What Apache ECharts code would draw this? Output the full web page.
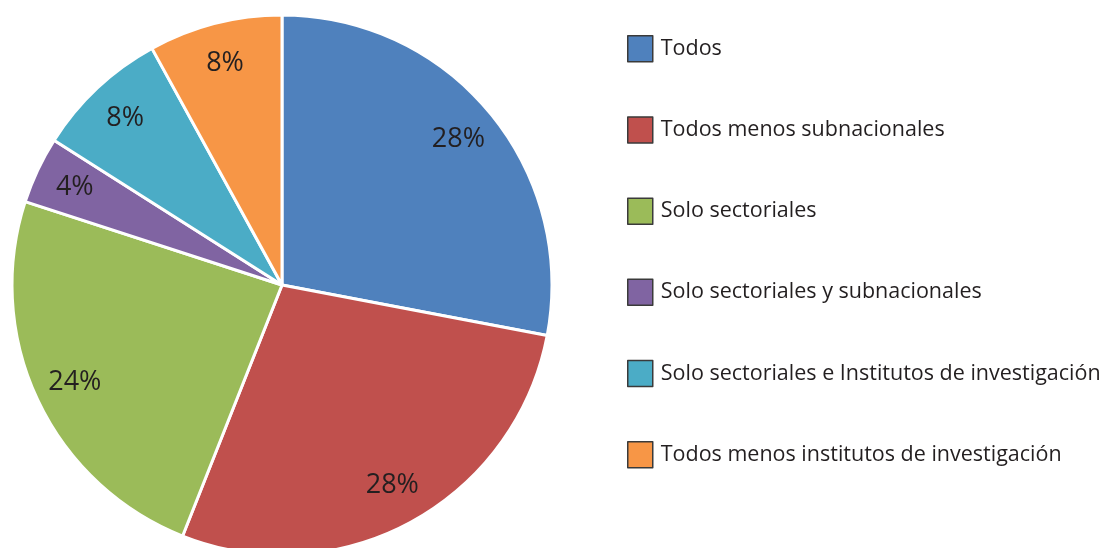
<!DOCTYPE html>
<html>
<head>
<meta charset="utf-8">
<script src="https://cdn.jsdelivr.net/npm/echarts@6/dist/echarts.min.js"></script>
<style>
  html, body { margin: 0; padding: 0; background: #fff; }
  #chart { width: 1100px; height: 548px; }
</style>
</head>
<body>
<div id="chart"></div>
<script>
// categorías y porcentajes
const categories = [
  'Todos',
  'Todos menos subnacionales',
  'Solo sectoriales',
  'Solo sectoriales y subnacionales',
  'Solo sectoriales e Institutos de investigación',
  'Todos menos institutos de investigación'
];
const values = [28, 28, 24, 4, 8, 8];
const colors = ['#4f81bd', '#c0504d', '#9bbb59', '#8064a2', '#4bacc6', '#f79646'];

const font = '"Open Sans", "Noto Sans", sans-serif';
const pieData = categories.map((name, i) => ({ name, value: values[i] }));

const chart = echarts.init(document.getElementById('chart'));
chart.setOption({
  animation: false,
  color: colors,
  legend: {
    orient: 'vertical',
    left: 622,
    top: 30,
    itemWidth: 25,
    itemHeight: 26,
    itemGap: 53.7,
    icon: 'rect',
    data: categories,
    itemStyle: { borderColor: '#3a3a3a', borderWidth: 1.5 },
    textStyle: { fontFamily: font, fontSize: 21.5, color: '#231f20', padding: [0, 0, 0, 3] }
  },
  series: [
    {
      // porciones
      type: 'pie',
      center: [282, 285],
      radius: 270,
      startAngle: 90,
      clockwise: true,
      silent: true,
      itemStyle: { borderColor: '#fff', borderWidth: 3 },
      label: { show: false },
      labelLine: { show: false },
      data: pieData
    },
    {
      // etiquetas de porcentaje, hacia el borde
      type: 'pie',
      center: [282, 285],
      radius: [182, 270],
      startAngle: 90,
      clockwise: true,
      silent: true,
      itemStyle: { color: 'transparent', borderWidth: 0 },
      label: {
        show: true,
        position: 'inside',
        formatter: '{c}%',
        fontFamily: font,
        fontSize: 27,
        color: '#231f20'
      },
      labelLine: { show: false },
      data: pieData
    }
  ]
});
</script>
</body>
</html>
